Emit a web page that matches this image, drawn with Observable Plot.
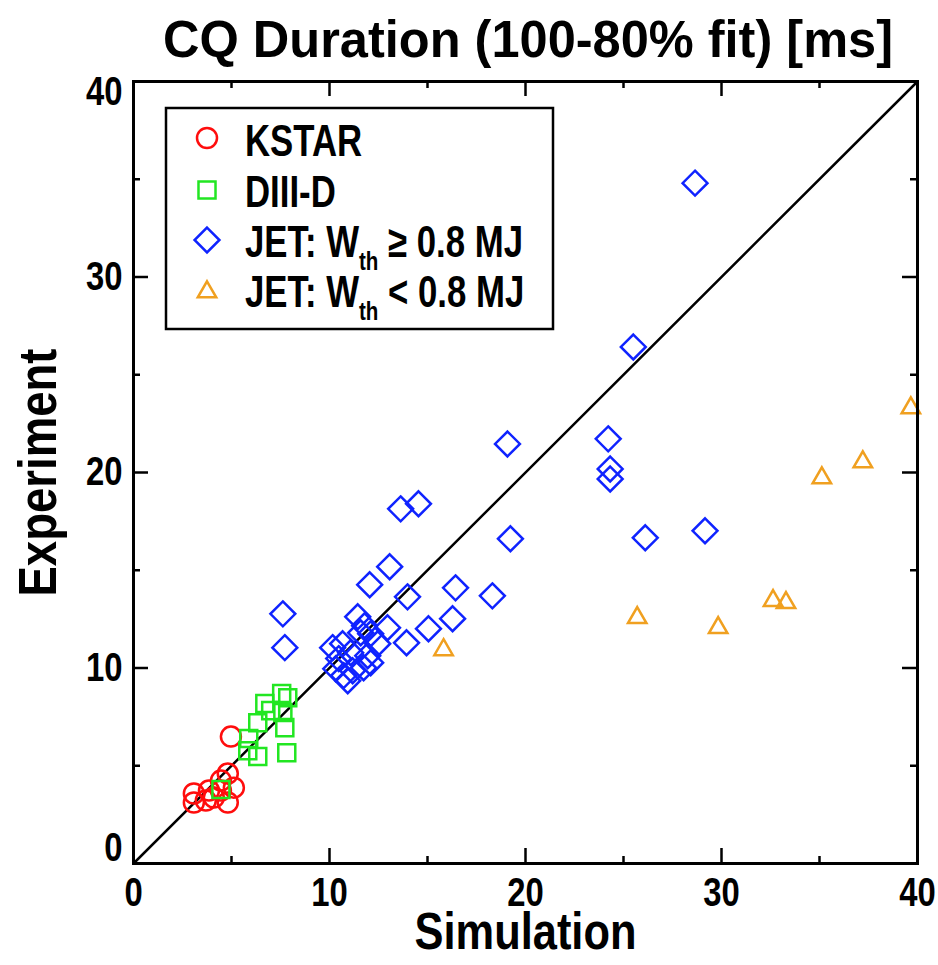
<!DOCTYPE html>
<html><head><meta charset="utf-8">
<script src="https://cdn.jsdelivr.net/npm/d3@7"></script>
<script src="https://cdn.jsdelivr.net/npm/@observablehq/plot@0.6"></script>
<style>
body{margin:0;background:#fff;}
#wrap{position:relative;width:938px;height:965px;overflow:hidden;}
#title{display:block;}
#legend{position:absolute;left:0;top:0;pointer-events:none;}
</style></head><body>
<div id="wrap">
<svg id="title" width="938" height="70"></svg>
<div id="chart"></div>
<svg id="legend" width="938" height="400"></svg>
</div>
<script>
// ---------- data ----------
const kstarSim = [4.97, 3.08, 3.08, 3.69, 3.85, 4.46, 4.81, 5.12, 4.81, 4.46, 4.10];
const kstarExp = [6.49, 3.58, 3.12, 3.22, 3.73, 4.24, 4.60, 3.88, 3.12, 3.73, 3.37];

const d3dSim = [7.56, 7.87, 6.70, 7.00, 6.34, 7.62, 7.72, 5.88, 5.83, 6.34, 7.82, 4.46];
const d3dExp = [8.69, 8.48, 8.18, 7.82, 7.20, 7.72, 6.95, 6.39, 5.77, 5.47, 5.67, 3.78];

const jetHiSim = [28.65, 25.50, 24.22, 24.32, 24.32, 19.08, 19.23, 26.11, 29.16, 13.63, 14.54, 13.07,
                  12.05, 16.43, 13.98, 18.31, 16.28, 15.05, 13.93, 7.62, 7.72,
                  11.44, 11.79, 12.96, 10.16, 10.67, 11.59, 12.10, 12.46, 11.08, 10.47, 11.95,
                  10.32, 10.72, 11.18, 11.74, 12.10, 10.93];
const jetHiExp = [34.80, 26.42, 21.72, 20.18, 19.67, 21.46, 16.61, 16.66, 17.02, 18.14, 18.40, 15.18,
                  14.26, 14.10, 13.64, 13.69, 12.52, 12.01, 11.29, 12.77, 11.04,
                  12.62, 12.16, 12.06, 11.04, 11.24, 11.80, 11.75, 11.24, 10.78, 10.48, 10.63,
                  9.96, 9.61, 9.86, 10.01, 10.27, 9.35];

const jetLoSim = [15.82, 25.70, 29.83, 32.63, 33.29, 35.12, 37.21, 39.66];
const jetLoExp = [10.93, 12.57, 12.06, 13.44, 13.34, 19.72, 20.54, 23.30];

const majorTicks = [0, 10, 20, 30, 40];
const minorTicks = [5, 15, 25, 35];
const yMidTicks = [10, 20, 30];
const diagonal = [0, 40];

const titleText = "CQ Duration (100-80% fit) [ms]";
const xLabel = "Simulation";
const yLabel = "Experiment";
const legendNames = ["KSTAR", "DIII-D", "JET: W", "JET: W"];
const legendSubs = ["", "", "th", "th"];
const legendTails = ["", "", " \u2265 0.8 MJ", " < 0.8 MJ"];

// ---------- style ----------
const FONT = '"Liberation Sans", Arial, sans-serif';
const RED = "#ff0d0d", GREEN = "#22e622", BLUE = "#0f23ff", ORANGE = "#f0a020";
const SW = 2.5;
const NARROW = 0.82;

function condense(sel, factor, target) {
  sel.each(function () {
    const n = this.getComputedTextLength();
    if (n > 0) {
      this.setAttribute("textLength", target != null ? target : n * factor);
      this.setAttribute("lengthAdjust", "spacingAndGlyphs");
    }
  });
}

// title
const tt = d3.select("#title").append("text")
  .attr("x", 528).attr("y", 57).attr("text-anchor", "middle")
  .attr("font-family", FONT).attr("font-weight", "bold")
  .attr("font-size", 52)
  .text(titleText);

const W = 938, H = 895, mL = 133, mR = 21, mT = 11, mB = 102;
const fh = H - mT - mB, fw = W - mL - mR;
const zip = (xs, ys) => xs.map((x, i) => ({x, y: ys[i]}));
const id = d => d;

const chart = Plot.plot({
  width: W, height: H, marginLeft: mL, marginRight: mR, marginTop: mT, marginBottom: mB,
  x: {domain: [0, 40]}, y: {domain: [0, 40]},
  style: {fontFamily: FONT, fontWeight: "bold", fontSize: "39px", color: "black", background: "white", overflow: "visible"},
  marks: [
    Plot.line(diagonal, {x: id, y: id, stroke: "black", strokeWidth: SW}),
    Plot.dot(zip(kstarSim, kstarExp), {x: "x", y: "y", symbol: "circle", r: 10, stroke: RED, strokeWidth: SW, fill: "none"}),
    Plot.dot(zip(d3dSim, d3dExp), {x: "x", y: "y", symbol: "square", r: 9.6, stroke: GREEN, strokeWidth: SW, fill: "none"}),
    Plot.dot(zip(jetHiSim, jetHiExp), {x: "x", y: "y", symbol: "diamond2", r: 11.2, stroke: BLUE, strokeWidth: SW, fill: "none"}),
    Plot.dot(zip(jetLoSim, jetLoExp), {x: "x", y: "y", symbol: "triangle2", r: 8.8, stroke: ORANGE, strokeWidth: SW, fill: "none"}),
    Plot.tickX(majorTicks, {x: id, insetTop: fh - 15, stroke: "black", strokeWidth: SW}),
    Plot.tickX(majorTicks, {x: id, insetBottom: fh - 15, stroke: "black", strokeWidth: SW}),
    Plot.tickX(minorTicks, {x: id, insetTop: fh - 7, stroke: "black", strokeWidth: SW}),
    Plot.tickX(minorTicks, {x: id, insetBottom: fh - 7, stroke: "black", strokeWidth: SW}),
    Plot.tickY(majorTicks, {y: id, insetRight: fw - 15, stroke: "black", strokeWidth: SW}),
    Plot.tickY(majorTicks, {y: id, insetLeft: fw - 15, stroke: "black", strokeWidth: SW}),
    Plot.tickY(minorTicks, {y: id, insetRight: fw - 7, stroke: "black", strokeWidth: SW}),
    Plot.tickY(minorTicks, {y: id, insetLeft: fw - 7, stroke: "black", strokeWidth: SW}),
    Plot.frame({stroke: "black", strokeWidth: 3}),
    Plot.axisX(majorTicks, {tickSize: 0, tickPadding: 14, fontSize: 40, label: null}),
    Plot.axisY(yMidTicks, {tickSize: 0, tickPadding: 11, fontSize: 40, label: null}),
    Plot.axisY([40], {tickSize: 0, tickPadding: 11, fontSize: 40, dy: 11, label: null}),
    Plot.axisY([0], {tickSize: 0, tickPadding: 11, fontSize: 40, dy: -15, label: null}),
    Plot.text([xLabel], {text: id, frameAnchor: "bottom", dy: 69, fontSize: 52, lineAnchor: "middle", textAnchor: "middle"}),
    Plot.text([yLabel], {text: id, frameAnchor: "left", dx: -95, rotate: -90, fontSize: 54, lineAnchor: "middle", textAnchor: "middle"})
  ]
});
document.getElementById("chart").appendChild(chart);

// ---------- legend (overlay) ----------
const lg = d3.select("#legend");
lg.append("rect").attr("x", 166).attr("y", 108).attr("width", 387).attr("height", 221)
  .attr("fill", "white").attr("stroke", "black").attr("stroke-width", 2.5);
const legSyms = [[d3.symbolCircle, 10, RED], [d3.symbolSquare, 9.6, GREEN], [d3.symbolDiamond2, 11.2, BLUE], [d3.symbolTriangle2, 8.8, ORANGE]];
const legY = [138, 190, 240, 292];
const legBase = [156, 207, 257, 307];
legSyms.forEach(([t, r, c], i) => {
  lg.append("path").attr("d", d3.symbol(t, Math.PI * r * r)())
    .attr("transform", `translate(207,${legY[i]})`)
    .attr("fill", "none").attr("stroke", c).attr("stroke-width", SW);
  const tx = lg.append("text").attr("class", "legtext").attr("x", 245).attr("y", legBase[i])
    .attr("font-family", FONT).attr("font-weight", "bold").attr("font-size", 44);
  tx.append("tspan").text(legendNames[i]);
  if (legendSubs[i]) {
    tx.append("tspan").attr("font-size", 26).attr("dy", 13).text(legendSubs[i]);
    tx.append("tspan").attr("dy", -13).text(legendTails[i]);
  }
});

// ---------- condensed type (reference uses a narrow bold face) ----------
condense(tt, null, 730);
const svg = d3.select(chart);
svg.selectAll("text").each(function () {
  const s = d3.select(this);
  const t = this.textContent;
  if (t === xLabel) condense(s, null, 222);
  else if (t === yLabel) condense(s, null, 248);
  else condense(s, NARROW);
});
condense(lg.selectAll("text.legtext"), 0.79);
</script>
</body></html>
